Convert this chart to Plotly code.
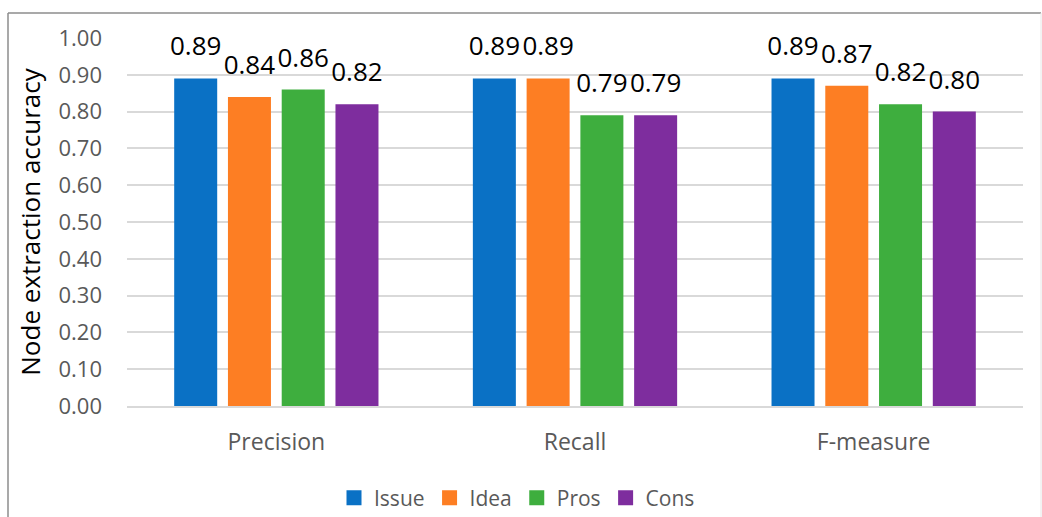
import plotly.graph_objects as go

categories = ["Precision", "Recall", "F-measure"]
series_names = ["Issue", "Idea", "Pros", "Cons"]
issue = [0.89, 0.89, 0.89]
idea = [0.84, 0.89, 0.87]
pros = [0.86, 0.79, 0.82]
cons = [0.82, 0.79, 0.80]
colors = ["#0A71C5", "#FD7E23", "#3EAE3E", "#7E2D9E"]
y_ticks = [0.0, 0.1, 0.2, 0.3, 0.4, 0.5, 0.6, 0.7, 0.8, 0.9, 1.0]

FONT = "Open Sans"
GRAY = "#595959"

W, H = 1042, 517
L, R, T, B = 127, 19, 38, 111
pw, ph = W - L - R, H - T - B
LABEL_LIFT = 12 / ph  # extra gap between bar top and its value label (in axis units)

fig = go.Figure()
for name, vals, col in zip(series_names, [issue, idea, pros, cons], colors):
    fig.add_trace(go.Bar(
        name=name, x=categories, y=vals, showlegend=False,
        marker=dict(color=col, line=dict(width=0)),
        hoverinfo="skip",
    ))
# value labels: transparent copies on an overlaid, slightly shifted y axis
for name, vals in zip(series_names, [issue, idea, pros, cons]):
    fig.add_trace(go.Bar(
        name=name, x=categories, y=vals, yaxis="y2", showlegend=False,
        marker=dict(color="rgba(0,0,0,0)", line=dict(width=0)),
        text=[f"{v:.2f}" for v in vals],
        textposition="outside", textangle=0, constraintext="none",
        cliponaxis=False,
        textfont=dict(family=FONT, size=26, color="#000000"),
        hoverinfo="skip",
    ))
# legend entries with larger square keys
for name, col in zip(series_names, colors):
    fig.add_trace(go.Scatter(
        name=name, x=[None], y=[None], mode="markers",
        marker=dict(symbol="square", size=15, color=col),
        showlegend=True, hoverinfo="skip",
    ))

def px_x(p):
    return (p - L) / pw

def px_y(p):
    return (H - B - p) / ph

shapes = [
    dict(type="line", xref="paper", yref="paper", x0=px_x(8), x1=px_x(1041), y0=px_y(13), y1=px_y(13),
         line=dict(color="#8c8c8c", width=1.5)),
    dict(type="line", xref="paper", yref="paper", x0=px_x(8), x1=px_x(8), y0=px_y(13), y1=px_y(530),
         line=dict(color="#8c8c8c", width=1.5)),
    dict(type="line", xref="paper", yref="paper", x0=px_x(1041), x1=px_x(1041), y0=px_y(13), y1=px_y(530),
         line=dict(color="#e6e6e6", width=1)),
]

fig.update_layout(
    width=W, height=H,
    margin=dict(l=L, r=R, t=T, b=B, autoexpand=False),
    paper_bgcolor="white", plot_bgcolor="white",
    barmode="group", bargap=0.28, bargroupgap=0.2,
    font=dict(family=FONT, color=GRAY),
    shapes=shapes,
    legend=dict(orientation="h", x=px_x(517), xanchor="center", y=px_y(498), yanchor="middle",
                font=dict(family=FONT, size=21, color=GRAY), traceorder="normal",
                itemsizing="trace"),
    xaxis=dict(showgrid=False, showline=True, linecolor="#d9d9d9", linewidth=2,
               tickfont=dict(family=FONT, size=23, color=GRAY), ticks="",
               ticklabelstandoff=14, automargin=False),
    yaxis=dict(range=[0, 1.0], tickvals=y_ticks, tickformat=".2f",
               showgrid=True, gridcolor="#d9d9d9", gridwidth=1.5, zeroline=False,
               tickfont=dict(family=FONT, size=22, color=GRAY), ticks="",
               ticklabelstandoff=24, automargin=False,
               title=dict(text="Node extraction accuracy", font=dict(family=FONT, size=26, color="#000000"),
                          standoff=10)),
    yaxis2=dict(range=[-LABEL_LIFT, 1.0 - LABEL_LIFT], overlaying="y", visible=False, automargin=False),
)

fig.write_html("out.html")
